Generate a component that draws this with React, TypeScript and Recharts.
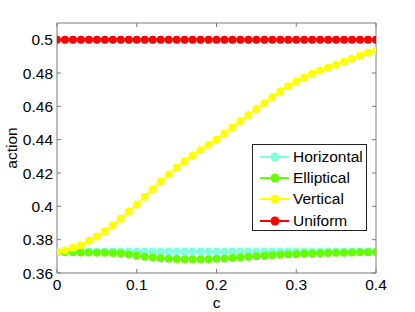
import React from "react";
import { LineChart, Line, XAxis, YAxis, Legend } from "recharts";

const cValues = [
  0, 0.01, 0.02, 0.03, 0.04, 0.05, 0.06, 0.07, 0.08, 0.09, 0.1, 0.11, 0.12, 0.13,
  0.14, 0.15, 0.16, 0.17, 0.18, 0.19, 0.2, 0.21, 0.22, 0.23, 0.24, 0.25, 0.26,
  0.27, 0.28, 0.29, 0.3, 0.31, 0.32, 0.33, 0.34, 0.35, 0.36, 0.37, 0.38, 0.39, 0.4,
];

const horizontal = [
  0.3728, 0.3729, 0.3729, 0.3729, 0.3729, 0.3729, 0.3729, 0.3729, 0.3729, 0.3729,
  0.3729, 0.3729, 0.3729, 0.3729, 0.3729, 0.3729, 0.3729, 0.3729, 0.3729, 0.3729,
  0.3729, 0.3729, 0.3729, 0.3729, 0.3729, 0.3729, 0.3729, 0.3729, 0.3729, 0.3729,
  0.3729, 0.3729, 0.3729, 0.3729, 0.3729, 0.3729, 0.3729, 0.3729, 0.3729, 0.3729,
  0.3729,
];

const elliptical = [
  0.3724, 0.3724, 0.3724, 0.3723, 0.3723, 0.3722, 0.3722, 0.372, 0.3717, 0.3711,
  0.3704, 0.3698, 0.3693, 0.3689, 0.3686, 0.3684, 0.3683, 0.3682, 0.3682, 0.3683,
  0.3685, 0.3687, 0.369, 0.3693, 0.3697, 0.37, 0.3704, 0.3706, 0.3709, 0.3711,
  0.3713, 0.3715, 0.3716, 0.3718, 0.372, 0.3721, 0.3722, 0.3723, 0.3724, 0.3725,
  0.3726,
];

const vertical = [
  0.3727, 0.3735, 0.3752, 0.3767, 0.3793, 0.3819, 0.3851, 0.3885, 0.3925, 0.3967,
  0.4011, 0.4057, 0.4103, 0.4147, 0.4191, 0.4231, 0.4271, 0.4305, 0.4336, 0.4369,
  0.4401, 0.4437, 0.4473, 0.4512, 0.4548, 0.4584, 0.462, 0.4656, 0.469, 0.4721,
  0.4749, 0.4772, 0.4795, 0.4815, 0.4832, 0.4849, 0.4867, 0.4885, 0.4903, 0.4921,
  0.4934,
];

const uniform = [
  0.5, 0.5, 0.5, 0.5, 0.5, 0.5, 0.5, 0.5, 0.5, 0.5, 0.5, 0.5, 0.5, 0.5, 0.5, 0.5,
  0.5, 0.5, 0.5, 0.5, 0.5, 0.5, 0.5, 0.5, 0.5, 0.5, 0.5, 0.5, 0.5, 0.5, 0.5, 0.5,
  0.5, 0.5, 0.5, 0.5, 0.5, 0.5, 0.5, 0.5, 0.5,
];

const xTicks = [0, 0.1, 0.2, 0.3, 0.4];
const yTicks = [0.36, 0.38, 0.4, 0.42, 0.44, 0.46, 0.48, 0.5];

const seriesNames = ["Horizontal", "Elliptical", "Vertical", "Uniform"];
const seriesColors = ["#80ffe0", "#66ff00", "#ffff00", "#ff0000"];

const data = cValues.map((c, i) => ({
  c,
  Horizontal: horizontal[i],
  Elliptical: elliptical[i],
  Vertical: vertical[i],
  Uniform: uniform[i],
}));

const axisColor = "#7a7a7a";
const font = { fontSize: 15.5, fill: "#000", fontFamily: "Liberation Sans, Arial, sans-serif" };
const noTick = () => <g />;

function LegendBox() {
  return (
    <div
      style={{
        width: 115,
        height: 87,
        boxSizing: "border-box",
        border: "1px solid #222",
        background: "#fff",
        paddingTop: 1,
        fontFamily: "Liberation Sans, Arial, sans-serif",
        fontSize: 15.5,
        color: "#000",
      }}
    >
      {seriesNames.map((name, i) => (
        <div key={name} style={{ display: "flex", alignItems: "center", height: 21.4 }}>
          <svg width={40} height={12} style={{ marginLeft: 6 }}>
            <line x1={1} y1={6} x2={30} y2={6} stroke={seriesColors[i]} strokeWidth={2} />
            <circle cx={16} cy={6} r={4.5} fill={seriesColors[i]} />
          </svg>
          <span style={{ marginLeft: -6 }}>{name}</span>
        </div>
      ))}
    </div>
  );
}

export default function App() {
  return (
    <div style={{ position: "absolute", left: 0, top: 0, background: "#fff" }}>
      <LineChart
        width={415}
        height={312}
        data={data}
        margin={{ top: 0, right: 0, bottom: 0, left: 0 }}
      >
        <XAxis
          dataKey="c"
          type="number"
          domain={[0, 0.4]}
          ticks={xTicks}
          allowDataOverflow
          height={39}
          stroke={axisColor}
          tickSize={-4}
          tickMargin={10}
          tick={font}
          tickFormatter={(v: number) => String(v)}
          label={{ value: "c", position: "insideBottom", offset: 4, style: font }}
        />
        <XAxis
          xAxisId="top"
          orientation="top"
          dataKey="c"
          type="number"
          domain={[0, 0.4]}
          ticks={xTicks}
          allowDataOverflow
          height={23}
          stroke={axisColor}
          tickSize={-4}
          tick={noTick}
        />
        <YAxis
          type="number"
          domain={[0.36, 0.51]}
          ticks={yTicks}
          allowDataOverflow
          width={57}
          stroke={axisColor}
          tickSize={-4}
          tickMargin={8}
          tick={font}
          tickFormatter={(v: number) => String(v)}
          label={{
            value: "action",
            angle: -90,
            position: "insideLeft",
            offset: 11,
            style: { ...font, textAnchor: "middle" },
          }}
        />
        <YAxis
          yAxisId="right"
          orientation="right"
          type="number"
          domain={[0.36, 0.51]}
          ticks={yTicks}
          allowDataOverflow
          width={39}
          stroke={axisColor}
          tickSize={-4}
          tick={noTick}
        />
        <Legend
          layout="vertical"
          align="center"
          verticalAlign="middle"
          content={() => <LegendBox />}
          wrapperStyle={{ left: 252, top: 144, width: 115, height: 87 }}
        />
        {seriesNames.map((name, i) => (
          <Line
            key={name}
            dataKey={name}
            name={name}
            stroke={seriesColors[i]}
            strokeWidth={2}
            dot={{ r: 4, fill: seriesColors[i], stroke: seriesColors[i], strokeWidth: 0 }}
            activeDot={false}
            isAnimationActive={false}
          />
        ))}
      </LineChart>
    </div>
  );
}
